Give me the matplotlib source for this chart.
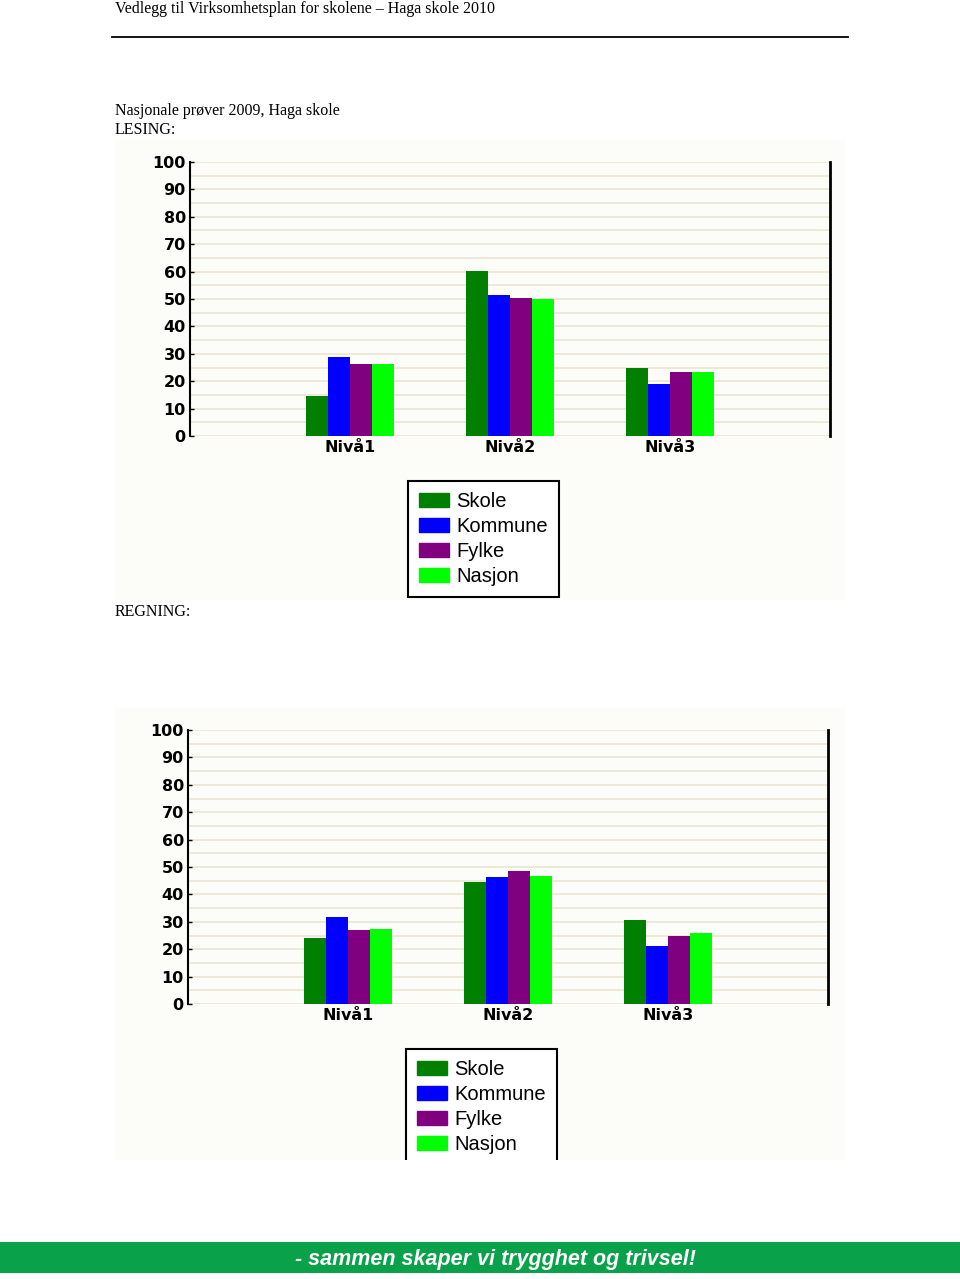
import matplotlib
matplotlib.use("Agg")
import matplotlib.pyplot as plt
from matplotlib.patches import Rectangle
from matplotlib.lines import Line2D
import numpy as np

# data
levels = ["Nivå1", "Nivå2", "Nivå3"]
series = ["Skole", "Kommune", "Fylke", "Nasjon"]
colors = ["#007f00", "#0000ff", "#800080", "#00ff00"]

lesing_skole = [14.6, 60.3, 24.8]
lesing_kommune = [29.0, 51.6, 18.8]
lesing_fylke = [26.2, 50.5, 23.2]
lesing_nasjon = [26.3, 50.1, 23.2]

regning_skole = [24.2, 44.6, 30.5]
regning_kommune = [31.9, 46.2, 21.3]
regning_fylke = [26.9, 48.4, 24.7]
regning_nasjon = [27.4, 46.8, 25.8]

yticks = list(range(0, 101, 10))

W, H = 960, 1279
fig = plt.figure(figsize=(W / 100, H / 100), dpi=100)


def px(x, y, w, h):
    # pixel box (top-left origin) -> figure fraction
    return [x / W, 1 - (y + h) / H, w / W, h / H]


def draw_chart(panel, plot, legend_top, values, clip_legend=False):
    bg = fig.add_axes(px(*panel))
    bg.set_facecolor("#fcfcf9")
    bg.set_xticks([])
    bg.set_yticks([])
    for s in bg.spines.values():
        s.set_visible(False)

    ax = fig.add_axes(px(*plot))
    ax.patch.set_alpha(0)
    x = np.arange(len(levels))
    bw = 0.1375
    for i, (name, vals) in enumerate(zip(series, values)):
        ax.bar(x + (i - 1.5) * bw, vals, width=bw, color=colors[i], label=name, zorder=3)
    ax.set_xlim(-1, 3)
    ax.set_ylim(0, 100)
    for v in range(0, 101, 5):
        ax.axhline(v, color="#ebe7d3", lw=1.3, zorder=1)
    ax.set_yticks(yticks)
    ax.set_yticklabels([str(t) for t in yticks], fontsize=11.5, fontweight="bold")
    ax.set_xticks(x)
    ax.set_xticklabels(levels, fontsize=11.5, fontweight="bold")
    ax.tick_params(axis="x", length=0, pad=3)
    ax.tick_params(axis="y", direction="in", length=3, width=1, pad=3)
    ax.spines["top"].set_visible(False)
    ax.spines["bottom"].set_visible(False)
    ax.spines["left"].set_linewidth(1.5)
    ax.spines["right"].set_linewidth(2)

    handles = [Rectangle((0, 0), 1, 1, color=c) for c in colors]
    leg = fig.legend(handles, series, loc="upper left",
                     bbox_to_anchor=(legend_top[0] / W, 1 - legend_top[1] / H),
                     prop={"family": "Liberation Sans", "size": 14.5},
                     frameon=True, fancybox=False, framealpha=1,
                     edgecolor="black", handlelength=1.5, handleheight=0.7,
                     handletextpad=0.35, labelspacing=0.29, borderpad=0.55,
                     borderaxespad=0)
    leg.get_frame().set_linewidth(1.5)
    if clip_legend:
        leg.legendPatch.set_clip_box(bg.bbox)
        leg.legendPatch.set_clip_on(True)
    return ax


# page header
serif = dict(family="Liberation Serif", fontsize=11.5, va="baseline")
fig.text(115 / W, 1 - 13 / H, "Vedlegg til Virksomhetsplan for skolene – Haga skole 2010", **serif)
fig.add_artist(Line2D([112 / W, 848 / W], [1 - 37 / H, 1 - 37 / H], color="black", lw=1.3))
fig.text(115 / W, 1 - 115 / H, "Nasjonale prøver 2009, Haga skole", **serif)
fig.text(115 / W, 1 - 134 / H, "LESING:", **serif)
fig.text(115 / W, 1 - 616 / H, "REGNING:", **serif)

draw_chart((115, 140, 730, 460), (190, 162, 640, 274), (408, 481),
           [lesing_skole, lesing_kommune, lesing_fylke, lesing_nasjon])
draw_chart((115, 708, 730, 452), (188, 730, 640, 274), (406, 1049),
           [regning_skole, regning_kommune, regning_fylke, regning_nasjon], clip_legend=True)

# footer band
fig.add_artist(Rectangle((0, 1 - 1273 / H), 1, 31 / H, transform=fig.transFigure,
                         color="#0aa14b", lw=0))
fig.text(495 / W, 1 - 1259 / H, "- sammen skaper vi trygghet og trivsel!",
         family="Liberation Sans", fontsize=15.5, fontweight="bold", style="italic",
         color="white", ha="center", va="center")

fig.savefig("out.png", dpi=100)
